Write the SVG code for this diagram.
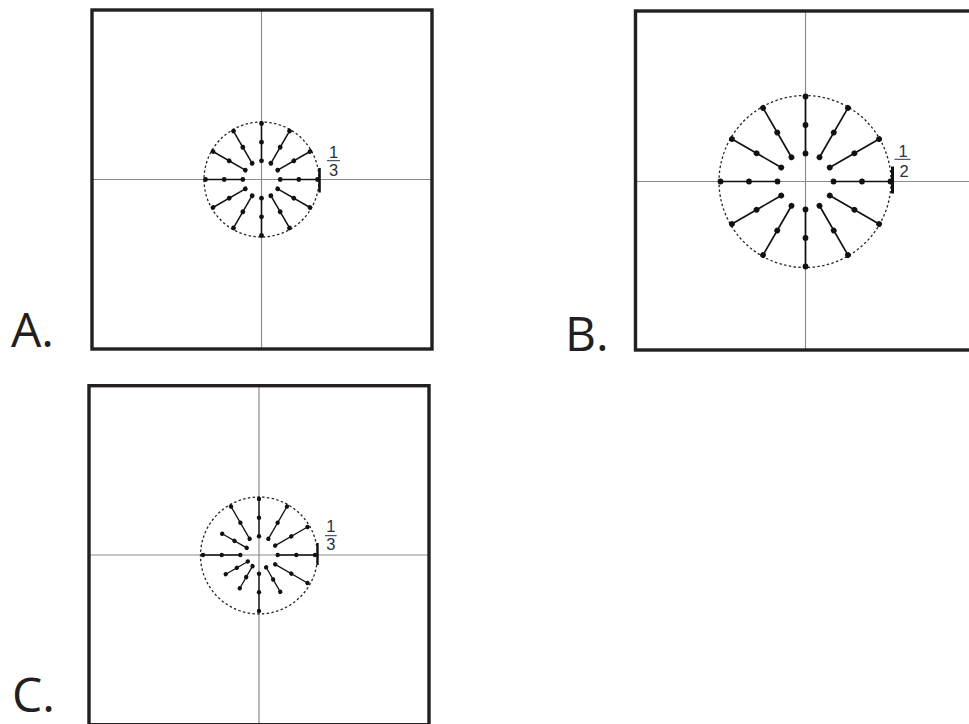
<svg xmlns="http://www.w3.org/2000/svg" xmlns:xlink="http://www.w3.org/1999/xlink" width="969" height="724" viewBox="0 0 969 724">
<style>
.frame{fill:none;stroke:#231f20;stroke-width:3.4}
.axis{stroke:#8a8a8a;stroke-width:1.2}
.ring{fill:none;stroke:#222;stroke-width:1.3;stroke-dasharray:2.4 2.4}
.sp{stroke:#111;stroke-width:1.5}
.dot{fill:#111}
.tick{stroke:#111;stroke-width:2.6}
.frac{font-family:"Liberation Sans",Arial,sans-serif;font-size:16.5px;fill:#2a3142;text-anchor:middle}
.fbar{stroke:#2a3142;stroke-width:1}
.lbl{font-family:"Open Sans","Noto Sans",sans-serif;font-size:48px;fill:#231f20}
</style>
<defs>
<g id="spA"><line class="sp" x1="18.7" y1="0" x2="56" y2="0"/><circle class="dot" cx="18.7" cy="0" r="2.4"/><circle class="dot" cx="37.3" cy="0" r="2.4"/><circle class="dot" cx="56" cy="0" r="2.4"/></g>
<g id="spB"><line class="sp" x1="28" y1="0" x2="85" y2="0" style="stroke-width:1.7"/><circle class="dot" cx="28" cy="0" r="2.9"/><circle class="dot" cx="56.5" cy="0" r="2.9"/><circle class="dot" cx="85" cy="0" r="2.9"/></g>
<g id="spC"><line class="sp" x1="18.7" y1="0" x2="56" y2="0" style="stroke-width:1.3"/><circle class="dot" cx="18.7" cy="0" r="2.2"/><circle class="dot" cx="37.3" cy="0" r="2.2"/><circle class="dot" cx="56" cy="0" r="2.2"/></g>
<g id="spC75"><line class="sp" x1="14.2" y1="0" x2="42.5" y2="0" style="stroke-width:1.3"/><circle class="dot" cx="14.2" cy="0" r="2.2"/><circle class="dot" cx="28.3" cy="0" r="2.2"/><circle class="dot" cx="42.5" cy="0" r="2.2"/></g>
<g id="spC67"><line class="sp" x1="12.9" y1="0" x2="38.4" y2="0" style="stroke-width:1.3"/><circle class="dot" cx="12.9" cy="0" r="2.2"/><circle class="dot" cx="25.6" cy="0" r="2.2"/><circle class="dot" cx="38.4" cy="0" r="2.2"/></g>
</defs>

<g id="panelA">
<line class="axis" x1="261.5" y1="10" x2="261.5" y2="349"/>
<line class="axis" x1="92" y1="179.5" x2="432" y2="179.5"/>
<rect class="frame" x="92" y="10" width="340" height="339"/>
<circle class="ring" cx="261.5" cy="179.5" r="57.5"/>
<g transform="translate(261.5,179.5)">
<use xlink:href="#spA" transform="rotate(0)"/>
<use xlink:href="#spA" transform="rotate(-30)"/>
<use xlink:href="#spA" transform="rotate(-60)"/>
<use xlink:href="#spA" transform="rotate(-90)"/>
<use xlink:href="#spA" transform="rotate(-120)"/>
<use xlink:href="#spA" transform="rotate(-150)"/>
<use xlink:href="#spA" transform="rotate(-180)"/>
<use xlink:href="#spA" transform="rotate(-210)"/>
<use xlink:href="#spA" transform="rotate(-240)"/>
<use xlink:href="#spA" transform="rotate(-270)"/>
<use xlink:href="#spA" transform="rotate(-300)"/>
<use xlink:href="#spA" transform="rotate(-330)"/>
</g>
<line class="tick" x1="319.5" y1="168" x2="319.5" y2="192.5"/>
<text class="frac" x="333.5" y="158.3">1</text>
<line class="fbar" x1="327" y1="160.7" x2="340" y2="160.7"/>
<text class="frac" x="333.5" y="175.7">3</text>
<text class="lbl" x="11" y="347">A.</text>
</g>

<g id="panelB">
<line class="axis" x1="805.5" y1="11" x2="805.5" y2="350"/>
<line class="axis" x1="635.5" y1="181.5" x2="969" y2="181.5"/>
<rect class="frame" x="635.5" y="11" width="340" height="339"/>
<circle class="ring" cx="805" cy="181.5" r="86"/>
<g transform="translate(805.5,181.5)">
<use xlink:href="#spB" transform="rotate(0)"/>
<use xlink:href="#spB" transform="rotate(-30)"/>
<use xlink:href="#spB" transform="rotate(-60)"/>
<use xlink:href="#spB" transform="rotate(-90)"/>
<use xlink:href="#spB" transform="rotate(-120)"/>
<use xlink:href="#spB" transform="rotate(-150)"/>
<use xlink:href="#spB" transform="rotate(-180)"/>
<use xlink:href="#spB" transform="rotate(-210)"/>
<use xlink:href="#spB" transform="rotate(-240)"/>
<use xlink:href="#spB" transform="rotate(-270)"/>
<use xlink:href="#spB" transform="rotate(-300)"/>
<use xlink:href="#spB" transform="rotate(-330)"/>
</g>
<line class="tick" x1="892.5" y1="166.5" x2="892.5" y2="193.5" style="stroke-width:3"/>
<text class="frac" x="903" y="157.3">1</text>
<line class="fbar" x1="894.5" y1="159.3" x2="910.5" y2="159.3"/>
<text class="frac" x="904" y="176.7">2</text>
<text class="lbl" x="565" y="351">B.</text>
</g>

<g id="panelC">
<line class="axis" x1="259" y1="385.7" x2="259" y2="724"/>
<line class="axis" x1="89" y1="555" x2="429" y2="555"/>
<rect class="frame" x="89" y="385.7" width="340" height="339"/>
<circle class="ring" cx="259" cy="555.5" r="58.5"/>
<g transform="translate(259,555)">
<use xlink:href="#spC" transform="rotate(0)"/>
<use xlink:href="#spC" transform="rotate(-30)"/>
<use xlink:href="#spC" transform="rotate(-60)"/>
<use xlink:href="#spC" transform="rotate(-90)"/>
<use xlink:href="#spC" transform="rotate(-120)"/>
<use xlink:href="#spC75" transform="rotate(-150)"/>
<use xlink:href="#spC" transform="rotate(-180)"/>
<use xlink:href="#spC67" transform="rotate(-210)"/>
<use xlink:href="#spC67" transform="rotate(-240)"/>
<use xlink:href="#spC" transform="rotate(-270)"/>
<use xlink:href="#spC75" transform="rotate(-300)"/>
<use xlink:href="#spC" transform="rotate(-330)"/>
</g>
<line class="tick" x1="317.5" y1="543" x2="317.5" y2="565" style="stroke-width:2.4"/>
<text class="frac" x="330.8" y="532.3">1</text>
<line class="fbar" x1="325" y1="535.7" x2="336.7" y2="535.7"/>
<text class="frac" x="330.8" y="550">3</text>
<text class="lbl" x="12" y="711.5">C.</text>
</g>
</svg>
